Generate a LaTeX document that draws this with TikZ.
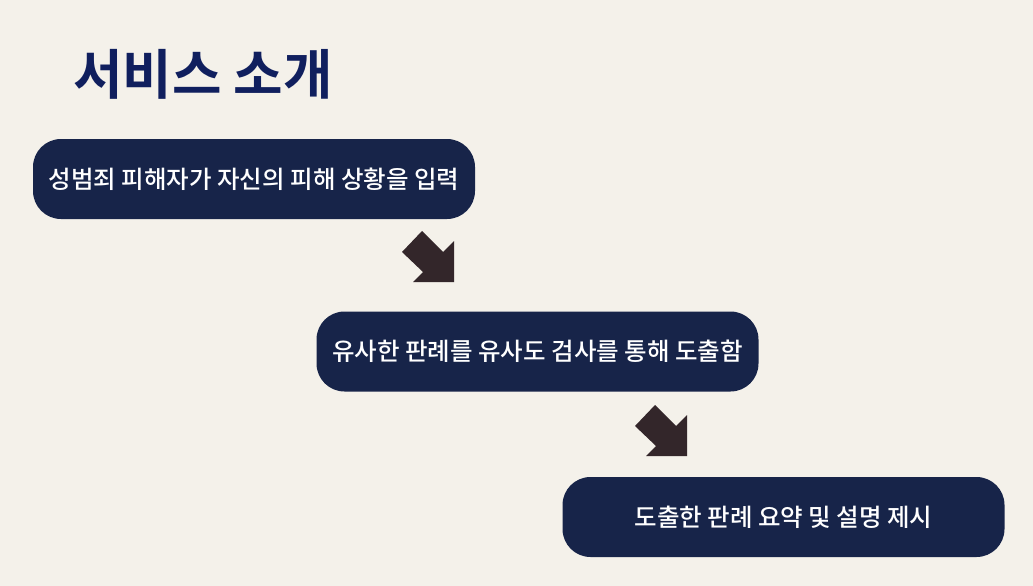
\documentclass[tikz,border=0pt]{standalone}
\usepackage{fontspec}
\newfontfamily\kr{Noto Sans CJK KR Medium}
\newfontfamily\krb{Noto Sans CJK KR Bold}
\definecolor{bg}{HTML}{F4F1EA}
\definecolor{boxc}{HTML}{172449}
\definecolor{titlec}{HTML}{101F5E}
\definecolor{arrc}{HTML}{33262A}
\tikzset{
  stepbox/.style={fill=boxc, rounded corners=28pt, minimum width=442pt, minimum height=80pt, inner sep=0pt, text=white, font=\kr\fontsize{24.5pt}{28pt}\selectfont},
  bigarrow/.style={fill=arrc, draw=none}
}
\begin{document}
\begin{tikzpicture}[x=1pt,y=-1pt]
\fill[bg] (0,0) rectangle (1033,586);
\useasboundingbox (0,0) rectangle (1033,586);
\node[anchor=west, text=titlec, font=\krb\fontsize{53.8pt}{60pt}\selectfont, inner sep=0pt] (title) at (73,74) {서비스 소개};
\node[stepbox] (s1) at (254,179) {성범죄 피해자가 자신의 피해 상황을 입력};
\node[stepbox] (s2) at (537.5,351.5) {유사한 판례를 유사도 검사를 통해 도출함};
\node[stepbox] (s3) at (783.5,517) {도출한 판례 요약 및 설명 제시};
\coordinate (a1) at (0,0);
\coordinate (a2) at (233,174);
\foreach \c in {a1,a2}{
  \fill[bigarrow, shift={(\c)}] (422,231) -- (443,252) -- (454,241) -- (454,282) -- (413,282) -- (423,272) -- (402,252) -- cycle;
}
\end{tikzpicture}
\end{document}
